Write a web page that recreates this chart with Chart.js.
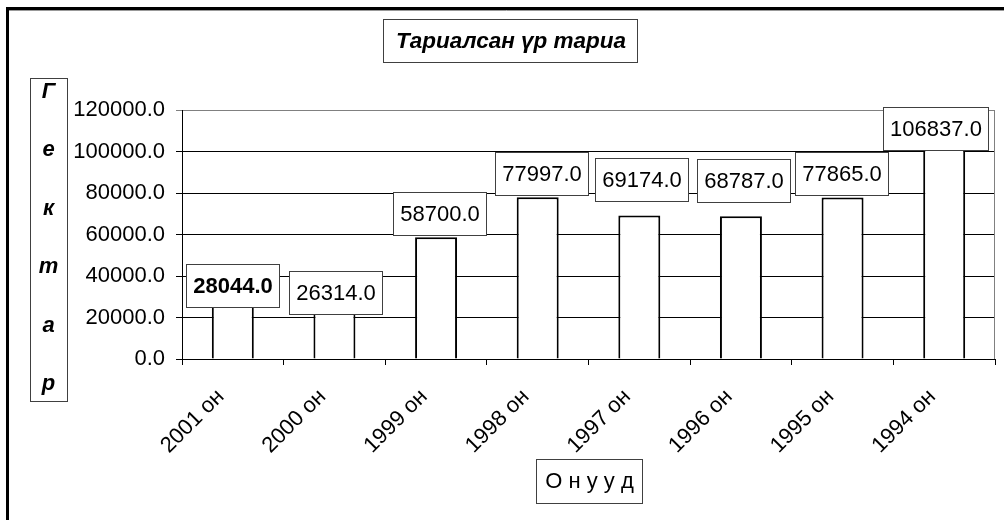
<!DOCTYPE html>
<html><head><meta charset="utf-8">
<script src="https://cdn.jsdelivr.net/npm/chart.js@4/dist/chart.umd.min.js"></script>
<style>html,body{margin:0;padding:0;background:#fff}canvas{display:block}</style>
</head><body>
<canvas id="c" width="1004" height="520"></canvas>
<script>
const categories = ['2001 он','2000 он','1999 он','1998 он','1997 он','1996 он','1995 он','1994 он'];
const areaHa = [28044, 26314, 58700, 77997, 69174, 68787, 77865, 106837];
const yTicks = [0, 20000, 40000, 60000, 80000, 100000, 120000];
const chartTitle = 'Тариалсан үр тариа';
const yTitle = 'Гектар';
const xTitle = 'О н у у д';
const boldLabel = [true, false, false, false, false, false, false, false];

const FONT = '"Liberation Sans", Arial, sans-serif';

const boxesPlugin = {
  id: 'boxes',
  beforeDraw(chart) {
    const ctx = chart.ctx;
    ctx.save();
    ctx.fillStyle = '#fff';
    ctx.fillRect(0, 0, chart.width, chart.height);
    ctx.restore();
  },
  afterDatasetsDraw(chart, args, opts) {
    const ctx = chart.ctx;
    const area = chart.chartArea;
    ctx.save();
    ctx.strokeStyle = '#808080';
    ctx.lineWidth = 1;
    ctx.beginPath();
    ctx.moveTo(Math.round(area.right) - 0.5, area.top);
    ctx.lineTo(Math.round(area.right) - 0.5, area.bottom);
    ctx.stroke();

    const meta = chart.getDatasetMeta(0);
    meta.data.forEach((bar, i) => {
      const txt = areaHa[i].toFixed(1);
      ctx.font = (boldLabel[i] ? 'bold ' : '') + '22px ' + FONT;
      const w = Math.round(ctx.measureText(txt).width + 13);
      const h = 43;
      const cx = bar.x + opts.dx[i];
      const bottom = bar.y - 2 + opts.dy[i];
      const left = Math.round(cx - w / 2) + 0.5;
      const top = Math.round(bottom - h) + 0.5;
      ctx.fillStyle = '#fff';
      ctx.fillRect(left, top, w, h);
      ctx.strokeStyle = '#404040';
      ctx.lineWidth = 1;
      ctx.strokeRect(left, top, w, h);
      ctx.fillStyle = '#000';
      ctx.textAlign = 'center';
      ctx.textBaseline = 'middle';
      ctx.fillText(txt, left + w / 2, top + h / 2 + 1);
    });
    ctx.restore();
  },
  afterDraw(chart) {
    const ctx = chart.ctx;
    ctx.save();
    ctx.strokeStyle = '#000';
    ctx.lineWidth = 3;
    ctx.strokeRect(7.5, 8.5, 1200, 700);
    ctx.strokeStyle = '#999';
    ctx.lineWidth = 1;
    ctx.beginPath();
    ctx.moveTo(9, 10.5); ctx.lineTo(1004, 10.5);
    ctx.stroke();

    ctx.fillStyle = '#fff';
    ctx.fillRect(383.5, 19.5, 254, 43);
    ctx.strokeStyle = '#404040';
    ctx.strokeRect(383.5, 19.5, 254, 43);
    ctx.fillStyle = '#000';
    ctx.font = 'italic bold 22.5px ' + FONT;
    ctx.textAlign = 'center';
    ctx.textBaseline = 'middle';
    ctx.fillText(chartTitle, 511, 42);

    ctx.fillStyle = '#fff';
    ctx.fillRect(30.5, 78.5, 37, 323);
    ctx.strokeRect(30.5, 78.5, 37, 323);
    ctx.fillStyle = '#000';
    ctx.font = 'italic bold 22px ' + FONT;
    ctx.textBaseline = 'alphabetic';
    Array.from(yTitle).forEach((ch, i) => {
      ctx.fillText(ch, 48.5, 98 + i * 58.4);
    });

    ctx.fillStyle = '#fff';
    ctx.fillRect(536.5, 459.5, 106, 44);
    ctx.strokeRect(536.5, 459.5, 106, 44);
    ctx.fillStyle = '#000';
    ctx.font = '22px ' + FONT;
    ctx.textBaseline = 'middle';
    ctx.fillText(xTitle, 589.5, 482);
    ctx.restore();
  }
};

new Chart(document.getElementById('c'), {
  type: 'bar',
  data: {
    labels: categories,
    datasets: [{
      data: areaHa,
      backgroundColor: '#fff',
      borderColor: '#000',
      borderWidth: 2,
      barPercentage: 0.413,
      categoryPercentage: 1
    }]
  },
  options: {
    responsive: false,
    animation: false,
    devicePixelRatio: 1,
    layout: { padding: { top: 110, right: 9, left: 0, bottom: 0 } },
    plugins: {
      legend: { display: false },
      tooltip: { enabled: false },
      boxes: {
        dx: [0, 1, 3, 4, 2, 3, -1, -9],
        dy: [8.5, 12, -0.5, 0, -12, -12.5, 0, 15]
      }
    },
    scales: {
      x: {
        grid: { display: true, drawOnChartArea: false, offset: true, tickLength: 6, color: '#000' },
        border: { display: true, color: '#000', width: 1 },
        ticks: {
          autoSkip: false, minRotation: 45, maxRotation: 45,
          font: { family: FONT, size: 22 }, color: '#000',
          padding: 19, labelOffset: -12
        },
        afterFit(s) { s.height = 161; }
      },
      y: {
        min: 0, max: 120000,
        afterBuildTicks(s) { s.ticks = yTicks.map(v => ({ value: v })); },
        grid: {
          color: c => (c.tick && c.tick.value === 120000) ? '#808080' : '#000',
          tickLength: 6, lineWidth: 1
        },
        border: { display: true, color: '#000', width: 1 },
        ticks: {
          font: { family: FONT, size: 22 }, color: '#000', padding: 11,
          callback: v => Number(v).toFixed(1)
        },
        afterFit(s) { s.width = 182; }
      }
    }
  },
  plugins: [boxesPlugin]
});
</script>
</body></html>
